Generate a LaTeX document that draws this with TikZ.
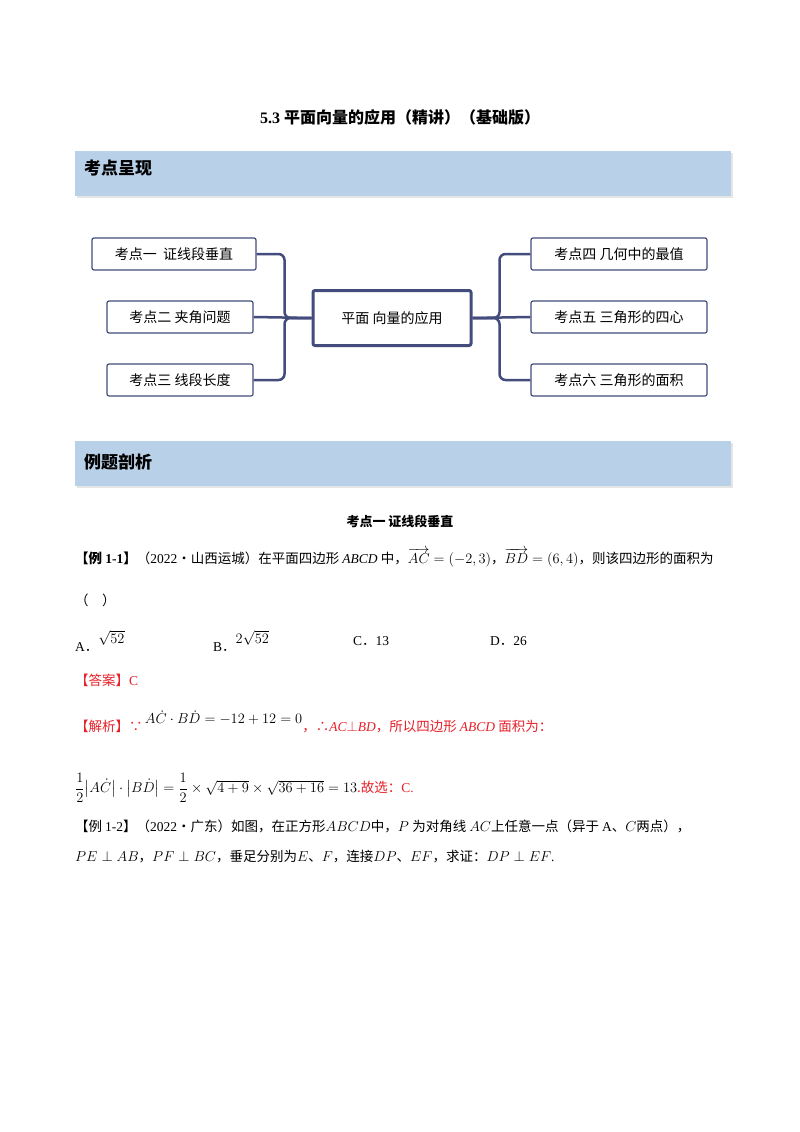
\documentclass[tikz,border=0pt]{standalone}
\usepackage{amsmath}
\usepackage{fontspec}
\setmainfont{Liberation Serif}
\newfontfamily\cjk{Noto Sans CJK SC}
\usetikzlibrary{shadows}
\definecolor{band}{HTML}{B8D0E8}
\definecolor{mm}{HTML}{434C7C}
\definecolor{rd}{HTML}{E8202A}
\begin{document}
\begin{tikzpicture}[x=1pt,y=-1pt,
  bandbox/.style={fill=band,draw=none,drop shadow={shadow xshift=2pt,shadow yshift=-2pt,fill=gray!40}},
  leaf/.style={draw=mm,line width=1.2pt,rounded corners=2pt,fill=white,font=\cjk\fontsize{14}{15}\selectfont},
  hub/.style={draw=mm,line width=3pt,rounded corners=2pt,fill=white,font=\cjk\fontsize{14}{15}\selectfont},
  conn/.style={draw=mm,line width=2.5pt,rounded corners=6pt},
  txt/.style={anchor=west,inner sep=0pt,font=\fontsize{13.5}{15}\selectfont},
  ctxt/.style={inner sep=0pt,font=\cjk\fontsize{13}{14}\selectfont}]
\useasboundingbox[fill=white] (0,0) rectangle (800,1132);
\node[ctxt,font=\cjk\bfseries\fontsize{16}{17}\selectfont] (title) at (400,117) {\rmfamily\bfseries 5.3 \cjk 平面向量的应用（精讲）（基础版）};
\path[bandbox] (75,151) rectangle (731,196);
\node[txt,font=\cjk\bfseries\fontsize{17}{18}\selectfont] (h1) at (84,168) {考点呈现};
\path[bandbox] (75,441) rectangle (731,486);
\node[txt,font=\cjk\bfseries\fontsize{17}{18}\selectfont] (h2) at (84,462) {例题剖析};
% mind map
\node[hub,minimum width=158pt,minimum height=55pt] (c) at (392,318) {平面 向量的应用};
\node[leaf,minimum width=164pt,minimum height=32pt] (l1) at (174,254) {考点一\ \ 证线段垂直};
\node[leaf,minimum width=146pt,minimum height=32pt] (l2) at (180,317) {考点二\ 夹角问题};
\node[leaf,minimum width=146pt,minimum height=32pt] (l3) at (180,380) {考点三\ 线段长度};
\node[leaf,minimum width=176pt,minimum height=32pt] (r1) at (619,254) {考点四\ 几何中的最值};
\node[leaf,minimum width=176pt,minimum height=32pt] (r2) at (619,317) {考点五\ 三角形的四心};
\node[leaf,minimum width=176pt,minimum height=32pt] (r3) at (619,380) {考点六\ 三角形的面积};
\draw[conn] (c.west) -- (l2.east);
\draw[conn] (c.west) -- ++(-27,0) |- (l1.east);
\draw[conn] (c.west) -- ++(-27,0) |- (l3.east);
\draw[conn] (c.east) -- (r2.west);
\draw[conn] (c.east) -- ++(27,0) |- (r1.west);
\draw[conn] (c.east) -- ++(27,0) |- (r3.west);
% body
\node[ctxt,font=\cjk\bfseries\fontsize{13}{14}\selectfont] (sub) at (400,521) {考点一\ 证线段垂直};
\node[txt] (e1) at (75,558) {\cjk\bfseries 【例 \rmfamily 1-1\cjk 】\mdseries（\rmfamily 2022\cjk·山西运城）在平面四边形 \rmfamily\itshape ABCD \cjk\upshape 中，\rmfamily$\overrightarrow{AC}=(-2,3)$\cjk，\rmfamily$\overrightarrow{BD}=(6,4)$\cjk，则该四边形的面积为};
\node[txt] (e1b) at (75,600) {\cjk（\quad ）};
\node[txt] (oa) at (75,641) {A{\cjk．}$\raisebox{8pt}{$\sqrt{52}$}$};
\node[txt] (ob) at (213,641) {B{\cjk．}$\raisebox{8pt}{$2\sqrt{52}$}$};
\node[txt] (oc) at (353,641) {C{\cjk．}13};
\node[txt] (od) at (490,641) {D{\cjk．}26};
\node[txt,text=rd] (ans) at (75,680) {\cjk 【答案】\rmfamily C};
\node[txt,text=rd] (an) at (75,722) {\cjk 【解析】∵\,\rmfamily\textcolor{black}{\raisebox{8pt}{$A\dot{C}\cdot B\dot{D}=-12+12=0$}}\cjk，∴\rmfamily\itshape AC\upshape$\perp$\itshape BD\upshape\cjk，所以四边形 \rmfamily\itshape ABCD \upshape\cjk 面积为：};
\node[txt] (fm) at (75,788) {$\dfrac12\big|A\dot{C}\big|\cdot\big|B\dot{D}\big|=\dfrac12\times\sqrt{4+9}\times\sqrt{36+16}=13$\textcolor{rd}{\cjk .故选：\rmfamily C.}};
\node[txt] (e2) at (75,826) {\cjk 【例 \rmfamily 1-2\cjk 】（\rmfamily 2022\cjk·广东）如图，在正方形\rmfamily$ABCD$\cjk 中，\rmfamily$P$ \cjk 为对角线 \rmfamily$AC$\cjk 上任意一点（异于 \rmfamily A\cjk 、\rmfamily$C$\cjk 两点），};
\node[txt] (e2b) at (75,857) {\rmfamily$PE\perp AB$\cjk ，\rmfamily$PF\perp BC$\cjk ，垂足分别为\rmfamily$E$\cjk 、\rmfamily$F$\cjk ，连接\rmfamily$DP$\cjk 、\rmfamily$EF$\cjk ，求证：\rmfamily$DP\perp EF$.};
\end{tikzpicture}
\end{document}
